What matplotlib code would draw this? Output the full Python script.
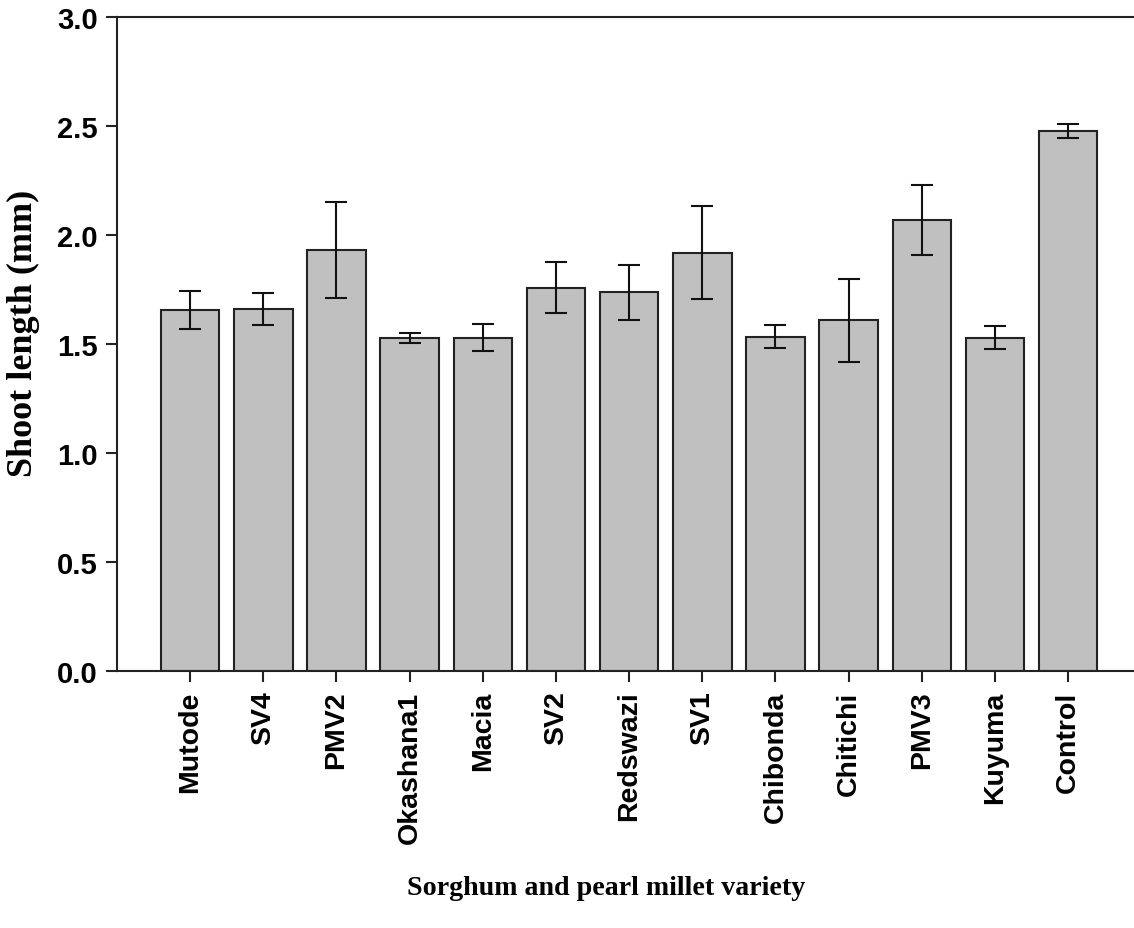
import matplotlib.pyplot as plt
import numpy as np

varieties = ["Mutode", "SV4", "PMV2", "Okashana1", "Macia", "SV2", "Redswazi",
             "SV1", "Chibonda", "Chitichi", "PMV3", "Kuyuma", "Control"]
shoot_length = [1.655, 1.661, 1.931, 1.528, 1.529, 1.759, 1.737,
                1.918, 1.534, 1.609, 2.070, 1.529, 2.476]
std_error = [0.086, 0.074, 0.222, 0.024, 0.061, 0.116, 0.125,
             0.213, 0.051, 0.190, 0.160, 0.053, 0.031]

fig = plt.figure(figsize=(11.34, 9.29), dpi=100)
ax = fig.add_axes([117 / 1134, 1 - 672 / 929, 1 - 117 / 1134, (672 - 18) / 929])

x = np.arange(len(varieties))
ax.bar(x, shoot_length, width=0.8, color="#c0c0c0", edgecolor="#222222",
       linewidth=1.5, zorder=2)
ax.errorbar(x, shoot_length, yerr=std_error, fmt="none", ecolor="#111111",
            elinewidth=1.5, capsize=8, capthick=1.5, zorder=3)

# Axes
ax.set_xlim(-1, 12.9)
ax.set_ylim(0, 3.0)
ax.set_yticks(np.arange(0, 3.01, 0.5))
ax.set_yticklabels([f"{v:.1f}" for v in np.arange(0, 3.01, 0.5)],
                   fontfamily="Liberation Sans", fontweight="bold", fontsize=21)
ax.set_xticks(x)
ax.set_xticklabels(varieties, rotation=90, fontfamily="Liberation Sans",
                   fontweight="bold", fontsize=20.5)
ax.tick_params(direction="out", length=8, width=1.5, color="#222222", pad=6)
ax.tick_params(axis="x", pad=6)

ax.spines["right"].set_visible(False)
for side in ("left", "bottom", "top"):
    ax.spines[side].set_linewidth(1.5)
    ax.spines[side].set_color("#222222")

# Labels
fig.text(23 / 1134, 1 - 333 / 929, "Shoot length (mm)", rotation=90,
         ha="center", va="center", fontfamily="Liberation Serif",
         fontweight="bold", fontsize=26)
fig.text(606 / 1134, 1 - 889 / 929, "Sorghum and pearl millet variety",
         ha="center", va="center", fontfamily="Liberation Serif",
         fontweight="bold", fontsize=20.2)

fig.savefig("out.png", dpi=100)
